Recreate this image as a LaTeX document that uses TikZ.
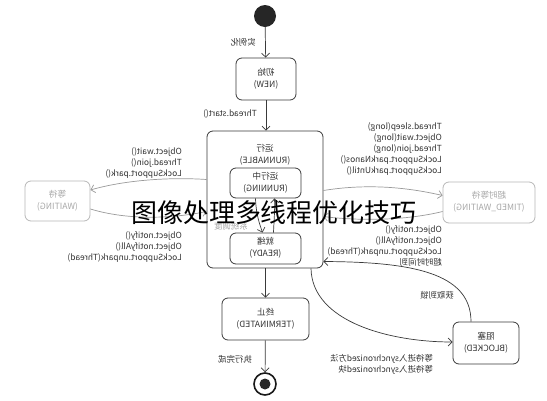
\documentclass[tikz,border=0pt]{standalone}
\usepackage{fontspec}
\setmainfont{Noto Sans CJK SC}
\usepackage{graphicx}
\usetikzlibrary{arrows.meta,calc}
\definecolor{ln}{HTML}{3A3A3A}
\definecolor{gr}{HTML}{B8B8B8}
\definecolor{gl}{HTML}{9A9A9A}
\definecolor{grt}{HTML}{A8A8A8}
\definecolor{tx}{HTML}{333333}
\newcommand{\mirc}[1]{\reflectbox{\begin{tabular}{@{}c@{}}#1\end{tabular}}}
\newcommand{\mirl}[1]{\reflectbox{\begin{tabular}{@{}l@{}}#1\end{tabular}}}
\begin{document}
\begin{tikzpicture}[x=1pt,y=-1pt,
  box/.style={draw=ln, line width=0.8pt, rounded corners=6pt, inner sep=0pt, text=tx,
    font=\fontsize{8.6}{12}\selectfont},
  gbox/.style={draw=gr, line width=0.8pt, rounded corners=6pt, inner sep=0pt, text=grt,
    font=\fontsize{8.6}{12}\selectfont},
  lbl/.style={text=tx, inner sep=0pt, font=\fontsize{8.4}{11}\selectfont},
  arr/.style={draw=ln, line width=0.7pt, -{Straight Barb[length=4pt,width=8pt]}},
  garr/.style={draw=gl, line width=0.7pt, -{Straight Barb[length=4pt,width=8pt]}}]
\useasboundingbox (0,0) rectangle (547,400);
\fill[white] (0,0) rectangle (547,400);

% states
\node[circle, fill=black!85, minimum size=22, inner sep=0pt] (start) at (265,16) {};
\node[box, minimum width=60, minimum height=42] (new) at (266,79) {\mirc{初始\\(NEW)}};
\node[box, minimum width=116, minimum height=137] (run) at (265,199.5) {};
\node[lbl, font=\fontsize{8.6}{11.5}\selectfont] (runlbl) at (265,155) {\mirc{运行\\(RUNNABLE)}};
\node[box, minimum width=71, minimum height=30] (running) at (265.5,183) {\mirc{运行中\\(RUNNING)}};
\node[box, minimum width=71, minimum height=31] (ready) at (265.5,248.5) {\mirc{就绪\\(READY)}};
\node[gbox, minimum width=65, minimum height=40] (wait) at (57.5,201) {\mirc{等待\\(WAITING)}};
\node[gbox, minimum width=92, minimum height=41] (timed) at (489,202.5) {\mirc{超时等待\\(TIMED\_WAITING)}};
\node[box, minimum width=87, minimum height=42] (term) at (265.5,319) {\mirc{终止\\(TERMINATED)}};
\node[box, minimum width=66, minimum height=42] (blk) at (486,343) {\mirc{阻塞\\(BLOCKED)}};
\node[circle, draw=black!90, line width=1.6pt, minimum size=22, inner sep=0pt] (end) at (265,384) {};
\node[circle, fill=black!85, minimum size=11, inner sep=0pt] (endin) at (end) {};

% connectors
\draw[arr] (start) -- (new);
\draw[arr] (new) -- (run.north -| new);
\draw[arr] (run.south -| term) -- (term);
\draw[arr] (term) -- (end);
\draw[arr] ([xshift=-10pt]running.south) .. controls (256,215) and (260,225) .. ([xshift=-3pt]ready.north);
\draw[arr] ([xshift=8pt]ready.north) .. controls (274,220) and (275,210) .. ([xshift=9pt]running.south);
\draw[garr] ([yshift=20pt]run.west) .. controls (170,177) and (125,180) .. ([yshift=11pt]wait.east);
\draw[garr] ([yshift=-8pt]wait.east) .. controls (130,221) and (175,218) .. ([yshift=-12pt]run.west);
\draw[garr] ([yshift=9pt]run.east) .. controls (370,183) and (410,188) .. ([yshift=7pt]timed.west);
\draw[garr] ([yshift=-9pt]timed.west) .. controls (400,222) and (350,220) .. ([yshift=-17pt]run.east);
\draw[arr] ([xshift=-15pt]blk.north) .. controls (471,272) and (410,262) .. ([yshift=-62pt]run.east);
\draw[arr] ([xshift=46pt]run.south) .. controls (312,322) and (390,342) .. ([yshift=1pt]blk.west);

% labels
\node[lbl, anchor=east] (l1) at (256,43) {\mirl{实例化}};
\node[lbl, anchor=east] (l2) at (257,114) {\mirl{Thread.start()}};
\node[lbl, text=grt] (l3) at (231,227) {\mirl{系统调度}};
\node[lbl, anchor=east] (l4) at (182,163) {\mirl{Object.wait()\\Thread.join()\\LockSupport.park()}};
\node[lbl, anchor=east] (l5) at (182,247.5) {\mirl{Object.notify()\\Object.notifyAll()\\LockSupport.unpark(Thread)}};
\node[lbl, anchor=east] (l6) at (442,149) {\mirl{Thread.sleep(long)\\Object.wait(long)\\Thread.join(long)\\LockSupport.parkNanos()\\LockSupport.parkUntil()}};
\node[lbl, anchor=east] (l7) at (442,247) {\mirl{Object.notify()\\Object.notifyAll()\\LockSupport.unpark(Thread)\\超时时间到}};
\node[lbl] (l8) at (437,296) {\mirl{获取到锁}};
\node[lbl, anchor=east] (l9) at (433,364.5) {\mirl{等待进入synchronized方法\\等待进入synchronized块}};
\node[lbl, anchor=east] (l10) at (252,360) {\mirl{执行完成}};

% watermark
\node[inner sep=0pt] (wm) at (274,213) {\fontsize{26}{26}\selectfont 图像处理多线程优化技巧};
\end{tikzpicture}
\end{document}
